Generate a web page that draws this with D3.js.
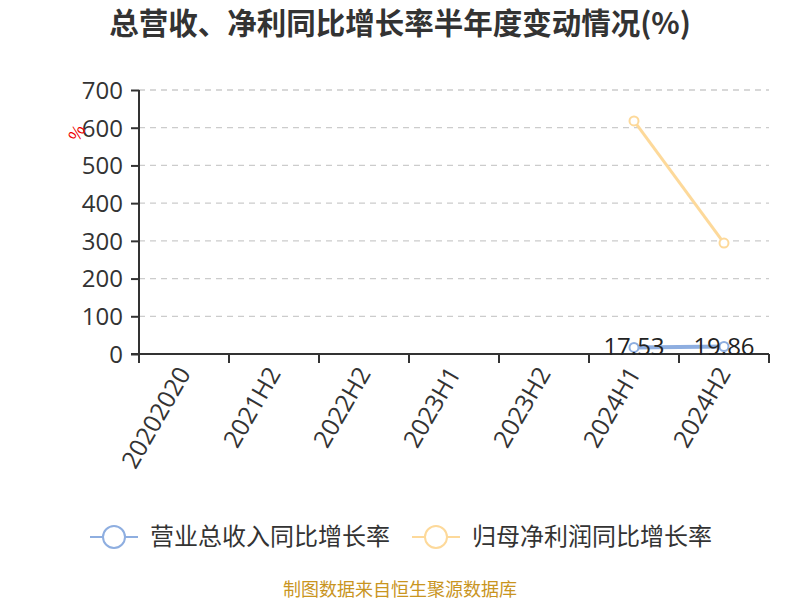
<!DOCTYPE html>
<html><head><meta charset="utf-8">
<script src="https://cdn.jsdelivr.net/npm/d3@7/dist/d3.min.js"></script>
<style>body{margin:0;background:#fff;}svg{font-family:"Noto Sans CJK SC","Noto Sans",sans-serif;}</style>
</head><body><svg id="c" width="800" height="600"></svg>
<script>
const categories = ["20202020","2021H2","2022H2","2023H1","2023H2","2024H1","2024H2"];
const revenueGrowth = [null,null,null,null,null,17.53,19.86];
const profitGrowth = [null,null,null,null,null,618,294];
const yTicks = [0,100,200,300,400,500,600,700];
const seriesNames = ["营业总收入同比增长率","归母净利润同比增长率"];
const colors = ["#8eaee0","#fdd99a"];

const svg = d3.select("#c");
const L=139, R=769, T=90, B=354;
const x = d3.scaleBand().domain(categories).range([L,R]);
const y = d3.scaleLinear().domain([0,700]).range([B,T]);
const numFont = "'Open Sans','Noto Sans',sans-serif";

svg.append("text").attr("x",400).attr("y",34).attr("text-anchor","middle")
  .attr("font-size",29.5).attr("font-weight","bold").attr("fill","#333").text("总营收、净利同比增长率半年度变动情况(%)");

// grid
svg.append("g").selectAll("line").data(yTicks.filter(d=>d>0)).join("line")
  .attr("x1",L).attr("x2",R).attr("y1",d=>y(d)).attr("y2",d=>y(d))
  .attr("stroke","#ccc").attr("stroke-dasharray","6,5").attr("stroke-width",1.3);

// y axis
const ya = svg.append("g").attr("transform",`translate(${L},0)`)
  .call(d3.axisLeft(y).tickValues(yTicks).tickSize(8).tickPadding(8));
ya.select(".domain").attr("stroke","#333").attr("stroke-width",2).attr("d",`M0,${T}V${B+5}`);
ya.selectAll(".tick line").attr("stroke","#333").attr("stroke-width",2);
ya.selectAll(".tick text").attr("font-size",24).attr("fill","#333").attr("font-family",numFont).attr("dy","0.35em");

// x axis
const xa = svg.append("g").attr("transform",`translate(0,${B})`)
  .call(d3.axisBottom(x).tickSize(0).tickFormat(d=>d));
xa.select(".domain").attr("stroke","#333").attr("stroke-width",2).attr("d",`M${L-8},0H${R}`);
xa.selectAll(".tick text").attr("font-size",24.5).attr("fill","#333")
  .attr("font-family",numFont)
  .attr("text-anchor","end").attr("dy","0.35em")
  .attr("transform","translate(0,15) rotate(-60)").attr("x",0).attr("y",0);
svg.append("g").selectAll("line").data(d3.range(categories.length+1)).join("line")
  .attr("x1",i=>L+i*x.bandwidth()).attr("x2",i=>L+i*x.bandwidth())
  .attr("y1",B).attr("y2",B+9).attr("stroke","#333").attr("stroke-width",2);

// % label
svg.append("text").attr("transform","translate(77,133) rotate(-60)").attr("text-anchor","middle")
  .attr("dy","0.35em").attr("font-size",17).attr("fill","#e00").text("%");

const cx = d => x(d)+x.bandwidth()/2;
const line = d3.line().defined(d=>d.v!=null).x(d=>cx(d.c)).y(d=>y(d.v));
[profitGrowth, revenueGrowth].forEach((arr,k)=>{
  const idx = k===0?1:0;
  const pts = categories.map((c,i)=>({c,v:arr[i]}));
  svg.append("path").datum(pts).attr("d",line).attr("fill","none")
    .attr("stroke",colors[idx]).attr("stroke-width",idx===0?4:3);
  svg.append("g").selectAll("circle").data(pts.filter(p=>p.v!=null)).join("circle")
    .attr("cx",p=>cx(p.c)).attr("cy",p=>y(p.v)).attr("r",4.5)
    .attr("fill","#fff").attr("stroke",colors[idx]).attr("stroke-width",2);
});
// labels for revenue
svg.append("g").selectAll("text").data(categories.map((c,i)=>({c,v:revenueGrowth[i]})).filter(p=>p.v!=null)).join("text")
  .attr("x",p=>cx(p.c)).attr("y",p=>y(p.v)+8).attr("text-anchor","middle")
  .attr("font-size",24).attr("fill","#222").attr("font-family",numFont)
  .text(p=>p.v.toFixed(2));

// legend
const lg = [{x:90,t:seriesNames[0],c:colors[0]},{x:412,t:seriesNames[1],c:colors[1]}];
lg.forEach(o=>{
  const g = svg.append("g");
  g.append("line").attr("x1",o.x).attr("x2",o.x+48).attr("y1",537).attr("y2",537).attr("stroke",o.c).attr("stroke-width",2);
  g.append("circle").attr("cx",o.x+24).attr("cy",537).attr("r",11).attr("fill","#fff").attr("stroke",o.c).attr("stroke-width",2);
  g.append("text").attr("x",o.x+60).attr("y",537).attr("dy","0.35em").attr("font-size",24).attr("fill","#333").text(o.t);
});

svg.append("text").attr("x",400).attr("y",596).attr("text-anchor","middle").attr("font-size",18)
  .attr("fill","#c9951f").text("制图数据来自恒生聚源数据库");
</script></body></html>
